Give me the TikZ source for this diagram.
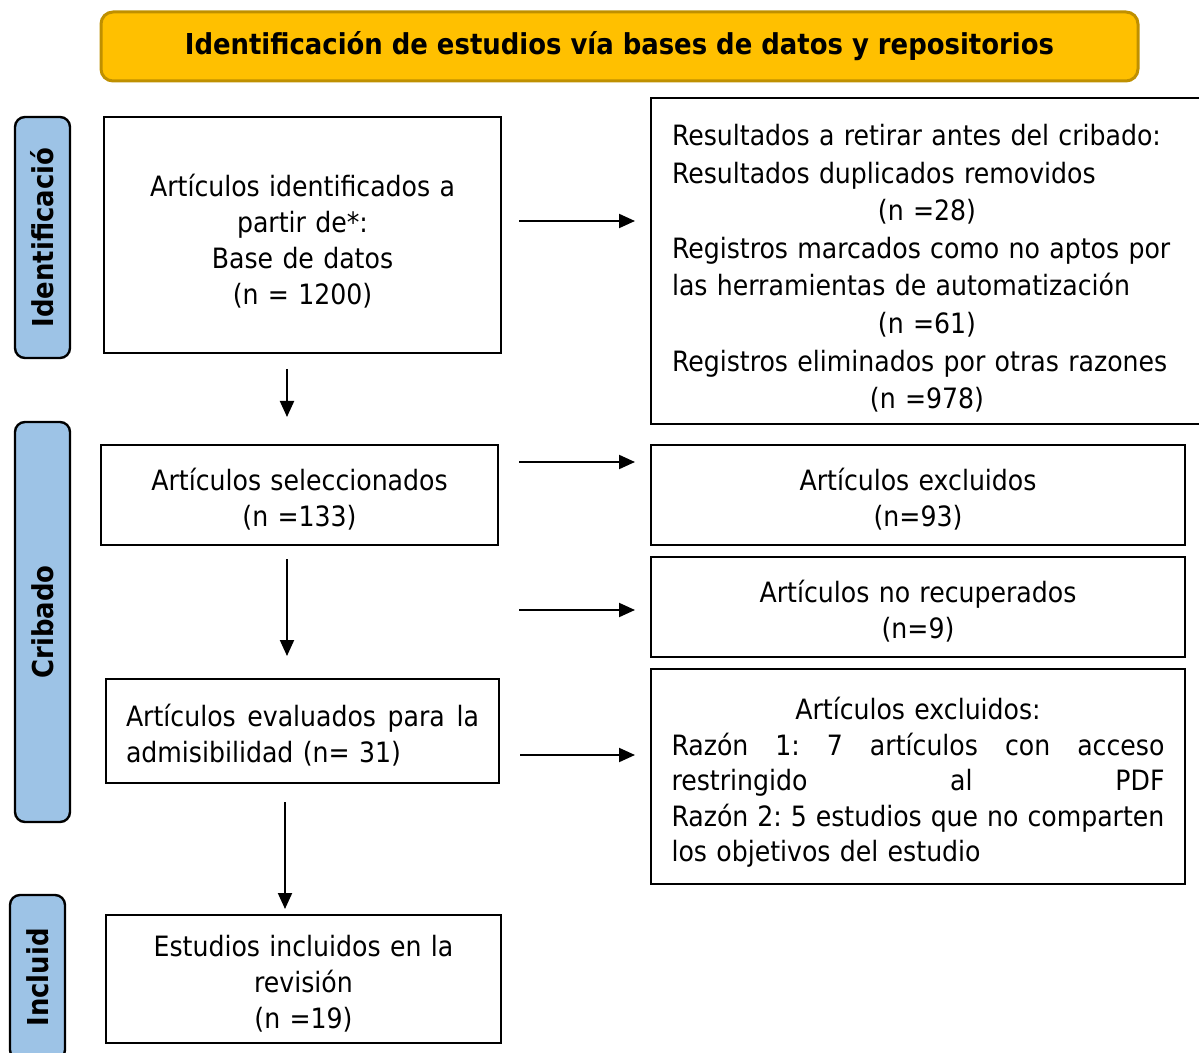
\documentclass[tikz,border=0pt]{standalone}
\usepackage{fontspec}
\setmainfont{DejaVu Sans Condensed}[BoldFont={DejaVu Sans Condensed Bold}]
\usetikzlibrary{arrows.meta}

\definecolor{headfill}{HTML}{FFC000}
\definecolor{headline}{HTML}{BF9000}
\definecolor{sidefill}{HTML}{9DC3E6}
\newcommand{\bodytext}{\fontsize{14}{18}\selectfont}
\newcommand{\boldtext}{\fontsize{14.4}{18}\selectfont\bfseries}

\begin{document}
\begin{tikzpicture}[x=0.5pt, y=-0.5pt,
    box/.style={draw, line width=1pt, inner sep=0pt, font=\bodytext},
    headbox/.style={draw=headline, fill=headfill, line width=1.5pt, rounded corners=6pt, inner sep=0pt, font=\boldtext},
    sidebox/.style={draw, fill=sidefill, line width=1.2pt, rounded corners=5pt, rotate=90, minimum height=27.5pt, inner sep=0pt, font=\boldtext},
    arr/.style={-{Triangle[length=8pt, width=7pt]}, line width=1pt}]
    \useasboundingbox (0,0) rectangle (1199,1053);

    \node[headbox, minimum width=518.5pt, minimum height=34.5pt] (head) at (619.5,46.5) {Identificación de estudios vía bases de datos y repositorios};

    % fases
    \node[sidebox, minimum width=120.5pt] (sideid) at (42.5,237.5) {Identificació};
    \node[sidebox, minimum width=200pt] (sidecrib) at (42.5,622) {Cribado};
    \node[sidebox, minimum width=82.5pt] (sideincl) at (37.5,977.5) {Incluid};

    % columna izquierda
    \node[box, minimum width=198.5pt, minimum height=118pt, text width=180pt, align=center] (idbox) at (302.5,235) {\rule{0pt}{17pt}Artículos identificados a\\ partir de*:\\ Base de datos\\ (n = 1200)};
    \node[box, minimum width=198.5pt, minimum height=50pt, text width=180pt, align=center] (selbox) at (299.5,495) {\rule{0pt}{15pt}Artículos seleccionados\\ (n =133)};
    \node[box, minimum width=196.5pt, minimum height=52pt, text width=176.5pt, align=left] (evalbox) at (302.5,731) {\rule{0pt}{15pt}\makebox[176.5pt]{Artículos\hfill evaluados\hfill para\hfill la}\\ admisibilidad (n= 31)};
    \node[box, minimum width=197.5pt, minimum height=64pt, text width=180pt, align=center] (inclbox) at (303.5,979) {\rule{0pt}{15pt}Estudios incluidos en la\\ revisión\\ (n =19)};

    % columna derecha
    \node[box, minimum width=276pt, minimum height=163pt, text width=255pt, align=left, font={\fontsize{14}{18.8}\selectfont}] (rbox1) at (927,261) {\rule{0pt}{18pt}Resultados a retirar antes del cribado:\\ Resultados duplicados removidos\\ \makebox[255pt]{(n =28)}\\ Registros marcados como no aptos por\\ las herramientas de automatización\\ \makebox[255pt]{(n =61)}\\ Registros eliminados por otras razones\\ \makebox[255pt]{(n =978)}};
    \node[box, minimum width=267pt, minimum height=50pt, text width=240pt, align=center] (rbox2) at (918,495) {\rule{0pt}{15pt}Artículos excluidos\\ (n=93)};
    \node[box, minimum width=267pt, minimum height=50pt, text width=240pt, align=center] (rbox3) at (918,607) {\rule{0pt}{15pt}Artículos no recuperados\\ (n=9)};
    \node[box, minimum width=267pt, minimum height=107.5pt, text width=246.5pt, align=left, font={\fontsize{14}{17.75}\selectfont}] (rbox4) at (918,776.5) {\rule{0pt}{17pt}\makebox[246.5pt]{Artículos excluidos:}\\ \makebox[246.5pt]{Razón\hfill 1:\hfill 7\hfill artículos\hfill con\hfill acceso}\\ \makebox[246.5pt]{restringido\hfill al\hfill PDF}\\ \makebox[246.5pt]{Razón\hfill 2:\hfill 5\hfill estudios\hfill que\hfill no\hfill comparten}\\ los objetivos del estudio};

    % flechas
    \coordinate (colA) at (287,0);
    \coordinate (colB) at (285,0);
    \draw[arr, shorten <=8.5pt, shorten >=7.5pt] ([yshift=7pt]idbox.east) -- ([yshift=7pt]idbox.east -| rbox1.west);
    \draw[arr, shorten <=7.5pt, shorten >=13.5pt] (idbox.south -| colA) -- (selbox.north -| colA);
    \draw[arr, shorten <=10pt, shorten >=7.5pt] ([yshift=16.5pt]selbox.east) -- ([yshift=16.5pt]selbox.east -| rbox2.west);
    \draw[arr, shorten <=6.5pt, shorten >=11pt] (selbox.south -| colA) -- (evalbox.north -| colA);
    \draw[arr, shorten <=10pt, shorten >=7.5pt] ([yshift=-1.5pt]rbox3.west -| selbox.east) -- ([yshift=-1.5pt]rbox3.west);
    \draw[arr, shorten <=10pt, shorten >=7.5pt] ([yshift=-12pt]evalbox.east) -- ([yshift=-12pt]evalbox.east -| rbox4.west);
    \draw[arr, shorten <=9pt, shorten >=2.5pt] (evalbox.south -| colB) -- (inclbox.north -| colB);
\end{tikzpicture}
\end{document}
